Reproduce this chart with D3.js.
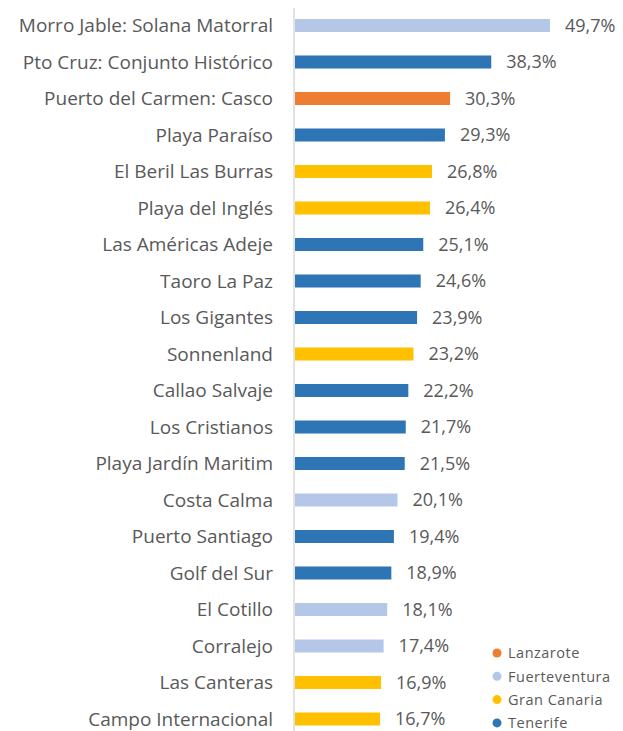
<!DOCTYPE html>
<html>
<head>
<meta charset="utf-8">
<script src="https://cdn.jsdelivr.net/npm/d3@7"></script>
<style>
  body { margin: 0; background: #fff; }
  svg text { font-family: "Open Sans", sans-serif; fill: #595959; }
</style>
</head>
<body>
<div id="chart"></div>
<script>
var width = 623;
var height = 731;

var categories = ["Morro Jable: Solana Matorral", "Pto Cruz: Conjunto Histórico", "Puerto del Carmen: Casco",
    "Playa Paraíso", "El Beril Las Burras", "Playa del Inglés", "Las Américas Adeje", "Taoro La Paz",
    "Los Gigantes", "Sonnenland", "Callao Salvaje", "Los Cristianos", "Playa Jardín Maritim",
    "Costa Calma", "Puerto Santiago", "Golf del Sur", "El Cotillo", "Corralejo", "Las Canteras",
    "Campo Internacional"];
var values = [49.7, 38.3, 30.3, 29.3, 26.8, 26.4, 25.1, 24.6, 23.9, 23.2, 22.2, 21.7, 21.5,
    20.1, 19.4, 18.9, 18.1, 17.4, 16.9, 16.7];
var islands = ["Fuerteventura", "Tenerife", "Lanzarote", "Tenerife", "Gran Canaria", "Gran Canaria",
    "Tenerife", "Tenerife", "Tenerife", "Gran Canaria", "Tenerife", "Tenerife", "Tenerife",
    "Fuerteventura", "Tenerife", "Tenerife", "Fuerteventura", "Fuerteventura", "Gran Canaria",
    "Gran Canaria"];
var legendNames = ["Lanzarote", "Fuerteventura", "Gran Canaria", "Tenerife"];
var legendColors = ["#ed7d31", "#b4c7e7", "#ffc000", "#2e75b6"];

var data = categories.map(function (c, i) {
    return {name: c, value: values[i], island: islands[i]};
});

var svg = d3.select("#chart").append("svg")
    .attr("width", width)
    .attr("height", height);

var color = d3.scaleOrdinal()
    .domain(legendNames)
    .range(legendColors);

var xScale = d3.scaleLinear()
    .domain([0, 50])
    .range([294, 551.5]);

var yScale = d3.scalePoint()
    .domain(categories)
    .range([25.5, 719]);

var barH = 13;

// bars
svg.selectAll(".bar")
    .data(data).enter().append("rect")
    .attr("class", "bar")
    .attr("x", xScale(0) + 1)
    .attr("y", function (d) { return yScale(d.name) - barH / 2; })
    .attr("width", function (d) { return xScale(d.value) - xScale(0) - 1; })
    .attr("height", barH)
    .style("fill", function (d) { return color(d.island); });

// vertical axis line
svg.append("line")
    .attr("x1", xScale(0)).attr("x2", xScale(0))
    .attr("y1", 8).attr("y2", height)
    .style("stroke", "#d9d9d9")
    .style("stroke-width", 1.5);

// category labels
svg.selectAll(".cat")
    .data(data).enter().append("text")
    .attr("class", "cat")
    .attr("x", 273)
    .attr("y", function (d) { return yScale(d.name); })
    .attr("dy", "0.35em")
    .attr("text-anchor", "end")
    .style("font-size", "19px")
    .text(function (d) { return d.name; });

// value labels
svg.selectAll(".val")
    .data(data).enter().append("text")
    .attr("class", "val")
    .attr("x", function (d) { return xScale(d.value) + 15; })
    .attr("y", function (d) { return yScale(d.name); })
    .attr("dy", "0.35em")
    .style("font-size", "18px")
    .text(function (d) { return d.value.toFixed(1).replace(".", ",") + "%"; });

// legend
var legend = svg.selectAll(".legend")
    .data(legendNames).enter().append("g")
    .attr("class", "legend")
    .attr("transform", function (d, i) { return "translate(497," + (653 + i * 23.3) + ")"; });
legend.append("circle")
    .attr("r", 4.5)
    .style("fill", function (d) { return color(d); });
legend.append("text")
    .attr("x", 11)
    .attr("dy", "0.36em")
    .style("font-size", "14.5px")
    .style("letter-spacing", "0.5px")
    .text(function (d) { return d; });
</script>
</body>
</html>
